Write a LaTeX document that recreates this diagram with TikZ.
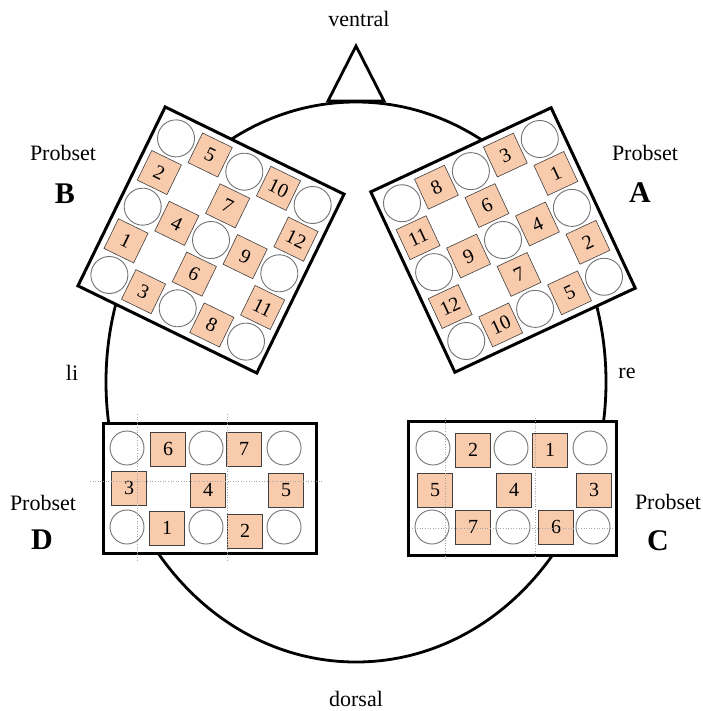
\documentclass[tikz,border=0pt]{standalone}
\usepackage{fontspec}
\setmainfont{Liberation Serif}
\definecolor{peach}{HTML}{F8CBAD}
\begin{document}
\begin{tikzpicture}[x=1pt,y=-1pt,
  probe/.style={draw=black!75, line width=0.6pt, fill=peach, minimum size=33pt, inner sep=0pt, font=\fontsize{20}{20}\selectfont},
  probewide/.style={probe, minimum width=35pt, minimum height=34pt},
  optode/.style={circle, draw=black!55, line width=0.9pt, fill=white, minimum size=37pt, inner sep=0pt},
  optodesmall/.style={optode, minimum size=34pt},
  setbox/.style={draw=black, line width=3pt, fill=white, inner sep=0pt},
  headline/.style={line width=2.8pt},
  gridline/.style={draw=black!35, dotted, line width=0.6pt},
  lbl/.style={font=\fontsize{22}{22}\selectfont, inner sep=0pt, anchor=base},
  setname/.style={font=\fontsize{30}{30}\selectfont\bfseries, inner sep=0pt, anchor=base}]
\useasboundingbox (0,0) rectangle (702,711);

% head and nose
\draw[headline] (356,382) ellipse [x radius=250, y radius=280];
\draw[headline, fill=white, line join=miter] (328,101) -- (356,46) -- (384,101) -- cycle;

% Probset B (rotated clockwise)
\begin{scope}[shift={(211,240)}, rotate=-26, transform shape]
  \node[setbox, minimum size=199pt] (boxB) at (0,0) {};
  \foreach \c in {1,3,5} \foreach \r in {1,3,5}
    \node[optode] (Bo\c\r) at ({(\c-3)*38},{(\r-3)*38}) {};
  \foreach \c/\r/\n in {2/1/5, 4/1/10, 1/2/2, 3/2/7, 5/2/12, 2/3/4, 4/3/9, 1/4/1, 3/4/6, 5/4/11, 2/5/3, 4/5/8}
    \node[probe] (B\n) at ({(\c-3)*38},{(\r-3)*38}) {\n};
\end{scope}

% Probset A (rotated counter-clockwise)
\begin{scope}[shift={(503,240)}, rotate=25, transform shape]
  \node[setbox, minimum size=199pt] (boxA) at (0,0) {};
  \foreach \c in {1,3,5} \foreach \r in {1,3,5}
    \node[optode] (Ao\c\r) at ({(\c-3)*38},{(\r-3)*38}) {};
  \foreach \c/\r/\n in {2/1/8, 4/1/3, 1/2/11, 3/2/6, 5/2/1, 2/3/9, 4/3/4, 1/4/12, 3/4/7, 5/4/2, 2/5/10, 4/5/5}
    \node[probe] (A\n) at ({(\c-3)*38},{(\r-3)*38}) {\n};
\end{scope}

% Probset D
\node[setbox, minimum width=213pt, minimum height=130pt] (boxD) at (210,488.5) {};
\foreach \x/\y [count=\i] in {127/448, 206/448, 284/448, 127/527, 206/527, 284/527}
  \node[optodesmall] (Do\i) at (\x,\y) {};
\foreach \x/\y/\n in {168/449/6, 244/449/7, 129/488/3, 208/490/4, 286/490/5, 167/528/1, 245/531/2}
  \node[probewide] (D\n) at (\x,\y) {\n};
\draw[gridline] (137,414) -- (137,562);
\draw[gridline] (227,414) -- (227,562);
\draw[gridline] (90,481) -- (322,481);

% Probset C
\node[setbox, minimum width=208pt, minimum height=134pt] (boxC) at (512.5,488.5) {};
\foreach \x/\y [count=\i] in {433/448, 511/448, 590/448, 432/527, 513/527, 593/527}
  \node[optodesmall] (Co\i) at (\x,\y) {};
\foreach \x/\y/\n in {473/450/2, 550/450/1, 435/490/5, 514/490/4, 594/490/3, 473/527/7, 556/527/6}
  \node[probewide] (C\n) at (\x,\y) {\n};
\draw[gridline] (445,418) -- (445,560);
\draw[gridline] (535,418) -- (535,560);
\draw[gridline] (412,528) -- (614,528);

% labels
\node[lbl] (ventral) at (359,27) {ventral};
\node[lbl] (dorsal) at (356,706) {dorsal};
\node[lbl] (li) at (72,380) {li};
\node[lbl] (re) at (627,378) {re};
\node[lbl] (pB) at (63,161) {Probset};
\node[setname] (nB) at (65,204) {B};
\node[lbl] (pA) at (645,161) {Probset};
\node[setname] (nA) at (640,203) {A};
\node[lbl] (pD) at (43,510) {Probset};
\node[setname] (nD) at (42,549) {D};
\node[lbl] (pC) at (668,509) {Probset};
\node[setname] (nC) at (658,550) {C};
\end{tikzpicture}
\end{document}
